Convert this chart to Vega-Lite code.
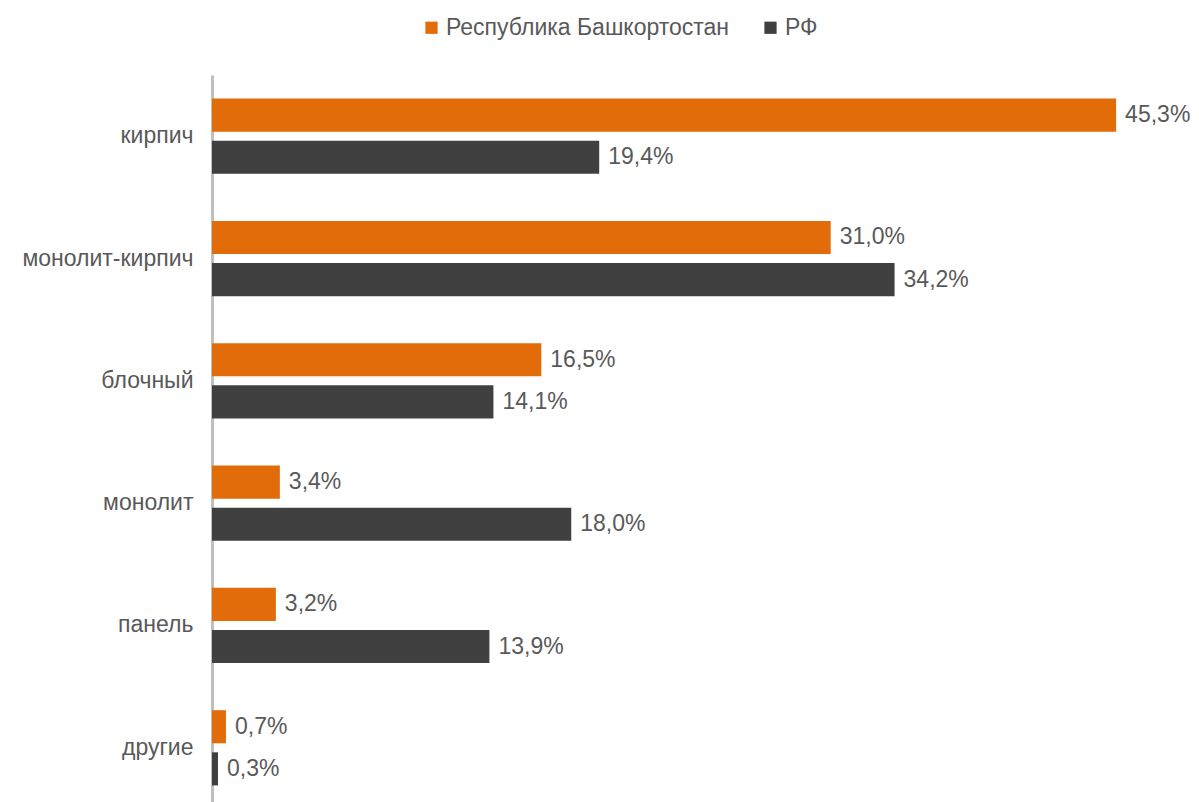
{
  "$schema": "https://vega.github.io/schema/vega-lite/v6.json",
  "width": 958,
  "height": 734,
  "autosize": {"type": "none"},
  "padding": {"left": 212, "top": 75, "right": 29, "bottom": 0},
  "background": "white",
  "config": {
    "view": {"stroke": null},
    "font": "Liberation Sans",
    "text": {"font": "Liberation Sans"},
    "locale": {"number": {"decimal": ",", "thousands": " ", "grouping": [3], "currency": ["", " ₽"]}}
  },
  "data": {"values": [
    {"cat": "кирпич", "series": "Республика Башкортостан", "v": 0.453},
    {"cat": "кирпич", "series": "РФ", "v": 0.194},
    {"cat": "монолит-кирпич", "series": "Республика Башкортостан", "v": 0.310},
    {"cat": "монолит-кирпич", "series": "РФ", "v": 0.342},
    {"cat": "блочный", "series": "Республика Башкортостан", "v": 0.165},
    {"cat": "блочный", "series": "РФ", "v": 0.141},
    {"cat": "монолит", "series": "Республика Башкортостан", "v": 0.034},
    {"cat": "монолит", "series": "РФ", "v": 0.180},
    {"cat": "панель", "series": "Республика Башкортостан", "v": 0.032},
    {"cat": "панель", "series": "РФ", "v": 0.139},
    {"cat": "другие", "series": "Республика Башкортостан", "v": 0.007},
    {"cat": "другие", "series": "РФ", "v": 0.003}
  ]},
  "encoding": {
    "y": {
      "field": "cat", "type": "nominal", "sort": null,
      "scale": {"paddingInner": 0.311, "paddingOuter": 0.1557},
      "axis": {
        "title": null, "ticks": false, "domainColor": "#BFBFBF", "domainWidth": 3,
        "labelFont": "Liberation Sans", "labelFontSize": 23, "labelColor": "#595959",
        "labelPadding": 19, "labelLimit": 300
      }
    },
    "yOffset": {
      "field": "series", "type": "nominal", "sort": ["Республика Башкортостан", "РФ"],
      "scale": {"paddingInner": 0.214, "paddingOuter": 0.107}
    },
    "x": {
      "field": "v", "type": "quantitative",
      "scale": {"domain": [0, 0.48]},
      "axis": null
    }
  },
  "layer": [
    {
      "mark": {"type": "bar"},
      "encoding": {
        "color": {
          "field": "series", "type": "nominal",
          "scale": {"domain": ["Республика Башкортостан", "РФ"], "range": ["#E36C0A", "#404040"]},
          "legend": {
            "title": null, "orient": "none", "direction": "horizontal",
            "legendX": 208, "legendY": -59,
            "symbolType": "square", "symbolSize": 150, "symbolStrokeWidth": 0,
            "labelFont": "Liberation Sans", "labelFontSize": 23, "labelColor": "#595959",
            "labelOffset": 3, "columnPadding": 29, "labelLimit": 400
          }
        }
      }
    },
    {
      "mark": {"type": "text", "align": "left", "dx": 9, "fontSize": 23, "color": "#595959", "font": "Liberation Sans"},
      "encoding": {
        "text": {"field": "v", "type": "quantitative", "format": ".1%"}
      }
    }
  ]
}
